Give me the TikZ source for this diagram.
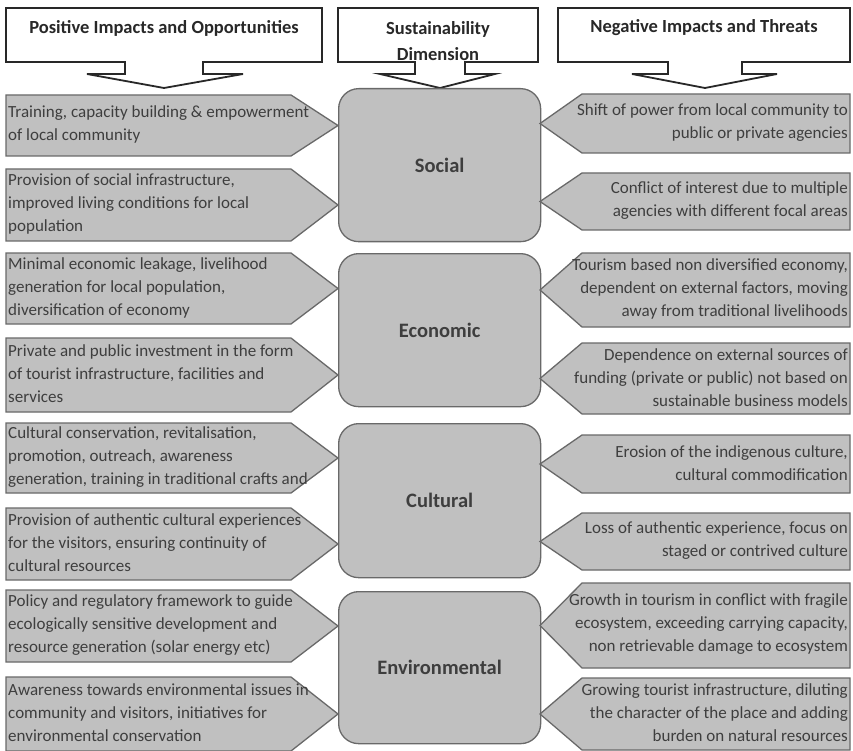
\documentclass[tikz,border=0pt]{standalone}
\usepackage{fontspec}
\setmainfont{Carlito}
\definecolor{panelgray}{RGB}{192,192,192}
\definecolor{edgegray}{RGB}{105,105,105}
\definecolor{txtgray}{RGB}{62,62,62}
\definecolor{headline}{RGB}{40,40,40}
\tikzset{
  panel/.style={draw=edgegray, fill=panelgray, line width=1.3pt, line join=miter},
  dimbox/.style={panel, rounded corners=20pt, inner sep=0pt, minimum width=202pt,
    font=\bfseries\fontsize{20.5}{24}\selectfont, text=txtgray},
  header/.style={draw=headline, fill=white, line width=1.8pt, line join=miter},
  bodytxt/.style={font=\fontsize{17}{23}\selectfont, text=txtgray, inner sep=0pt},
  lefttxt/.style={bodytxt, align=left, anchor=west},
  righttxt/.style={bodytxt, align=right, anchor=east},
  headtxt/.style={font=\bfseries\fontsize{18.5}{26}\selectfont, text=headline,
    inner sep=0pt, align=center},
}
% pentagon pointing right into the dimension box: name, top, bottom, text
\newcommand\posarrow[4]{%
  \draw[panel] (6,#2) -- (291,#2) -- (338,{(#2+#3)/2}) -- (291,#3) -- (6,#3) -- cycle;
  \node[lefttxt] (#1) at (8,{(#2+#3)/2-1}) {#4};
}
% pentagon pointing left into the dimension box: name, top, bottom, text
\newcommand\negarrow[4]{%
  \draw[panel] (850,#2) -- (582,#2) -- (540,{(#2+#3)/2}) -- (582,#3) -- (850,#3) -- cycle;
  \node[righttxt] (#1) at (848,{(#2+#3)/2-1}) {#4};
}
% header box with a downward arrow: left, right, stem left, stem right, wing left, wing right
\newcommand\headbox[6]{%
  \draw[header] (#1,8) -- (#2,8) -- (#2,62) -- (#4,62) -- (#4,74) -- (#6,74)
    -- ({(#3+#4)/2},88) -- (#5,74) -- (#3,74) -- (#3,62) -- (#1,62) -- cycle;
}
\begin{document}
\begin{tikzpicture}[x=1pt,y=-1pt]
\useasboundingbox (0,0) rectangle (853,751);
\fill[white] (0,0) rectangle (853,751);

% column headers
\headbox{6}{322}{125}{203}{87}{243}
\headbox{338}{538}{415}{465}{380}{495}
\headbox{558}{850}{668}{742}{632}{777}
\node[headtxt] (hpos) at (164,28) {Positive Impacts and Opportunities};
\node[headtxt] (hdim) at (438,41) {Sustainability\\Dimension};
\node[headtxt] (hneg) at (704,28) {Negative Impacts and Threats};

% sustainability dimensions
\node[dimbox, minimum height=153pt, anchor=north west] (social) at (338,88) {Social};
\node[dimbox, minimum height=153pt, anchor=north west] (economic) at (338,253) {Economic};
\node[dimbox, minimum height=154pt, anchor=north west] (cultural) at (338,423) {Cultural};
\node[dimbox, minimum height=152pt, anchor=north west] (environmental) at (338,591) {Environmental};

% positive impacts
\posarrow{p1}{95}{156}{Training, capacity building \& empowerment\\of local community}
\posarrow{p2}{169}{241}{Provision of social infrastructure,\\improved living conditions for local\\population}
\posarrow{p3}{253}{324}{Minimal economic leakage, livelihood\\generation for local population,\\diversification of economy}
\posarrow{p4}{338}{412}{Private and public investment in the form\\of tourist infrastructure, facilities and\\services}
\posarrow{p5}{423}{493}{Cultural conservation, revitalisation,\\promotion, outreach, awareness\\generation, training in traditional crafts and}
\posarrow{p6}{508}{580}{Provision of authentic cultural experiences\\for the visitors, ensuring continuity of\\cultural resources}
\posarrow{p7}{590}{662}{Policy and regulatory framework to guide\\ecologically sensitive development and\\resource generation (solar energy etc)}
\posarrow{p8}{677}{751}{Awareness towards environmental issues in\\community and visitors, initiatives for\\environmental conservation}

% negative impacts
\negarrow{n1}{94}{153}{Shift of power from local community to\\public or private agencies}
\negarrow{n2}{173}{230}{Conflict of interest due to multiple\\agencies with different focal areas}
\negarrow{n3}{253}{327}{Tourism based non diversified economy,\\dependent on external factors, moving\\away from traditional livelihoods}
\negarrow{n4}{343}{414}{Dependence on external sources of\\funding (private or public) not based on\\sustainable business models}
\negarrow{n5}{435}{493}{Erosion of the indigenous culture,\\cultural commodification}
\negarrow{n6}{513}{570}{Loss of authentic experience, focus on\\staged or contrived culture}
\negarrow{n7}{583}{668}{Growth in tourism in conflict with fragile\\ecosystem, exceeding carrying capacity,\\non retrievable damage to ecosystem}
\negarrow{n8}{678}{750}{Growing tourist infrastructure, diluting\\the character of the place and adding\\burden on natural resources}
\end{tikzpicture}
\end{document}
